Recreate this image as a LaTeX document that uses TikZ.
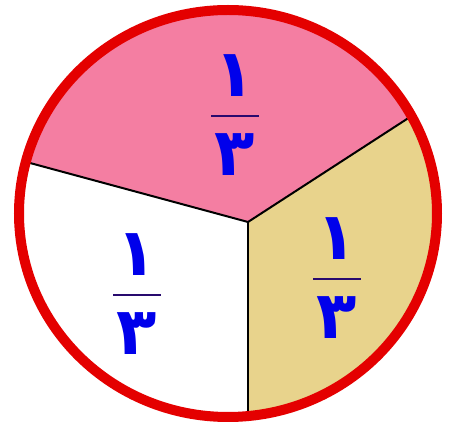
\documentclass[tikz,border=0pt]{standalone}
\usepackage{fontspec}
\usetikzlibrary{calc,positioning}
\newfontfamily\arabicfont[Script=Arabic]{DejaVu Sans}
\TeXXeTstate=1
\definecolor{sectorpink}{RGB}{244,126,162}
\definecolor{sectortan}{RGB}{232,211,140}
\definecolor{rimred}{RGB}{228,0,0}
\definecolor{digitblue}{RGB}{0,0,235}
\definecolor{barnavy}{RGB}{40,10,110}
\tikzset{
  digit/.style={inner sep=0pt,text=digitblue,font=\arabicfont\bfseries\fontsize{66}{66}\selectfont},
  fracbar/.style={barnavy,line width=2.2pt},
  divider/.style={black,line width=2pt},
}
% fraction one third: name, x, y of bar
\newcommand{\thirdfrac}[3]{%
  \coordinate (#1) at (#2,#3);%
  \node[digit] (#1num) at ($(#1)+(0,-40)$) {\beginR ١\endR};%
  \node[digit] (#1den) at ($(#1)+(0,39)$) {\beginR ٣\endR};%
  \draw[fracbar] ($(#1)+(-24,0)$) -- ($(#1)+(24,0)$);%
}

\begin{document}
\begin{tikzpicture}[x=1pt,y=-1pt]
  \useasboundingbox (0,0) rectangle (451,427);
  \fill[white] (0,0) rectangle (451,427);
  \coordinate (mid) at (248,222);
  \coordinate (leftend) at (30,163);
  \coordinate (rightend) at (410,117);
  \coordinate (bottomend) at (248,416);
  \begin{scope}
    \clip (228,213.5) ellipse [x radius=209,y radius=203.5];
    \fill[sectorpink] (mid) -- ($(mid)!1.6!(leftend)$) -- (-100,-50) -- (520,-50) -- ($(mid)!1.6!(rightend)$) -- cycle;
    \fill[sectortan] (mid) -- ($(mid)!1.6!(rightend)$) -- (520,520) -- ($(mid)!1.6!(bottomend)$) -- cycle;
  \end{scope}
  \draw[divider] (leftend) -- (mid) -- (rightend);
  \draw[divider] (mid) -- (bottomend);
  \draw[rimred,line width=10pt] (228,213.5) ellipse [x radius=209,y radius=203.5];
  \thirdfrac{top}{235}{116}
  \thirdfrac{left}{137}{295}
  \thirdfrac{right}{337}{279}
\end{tikzpicture}
\end{document}
